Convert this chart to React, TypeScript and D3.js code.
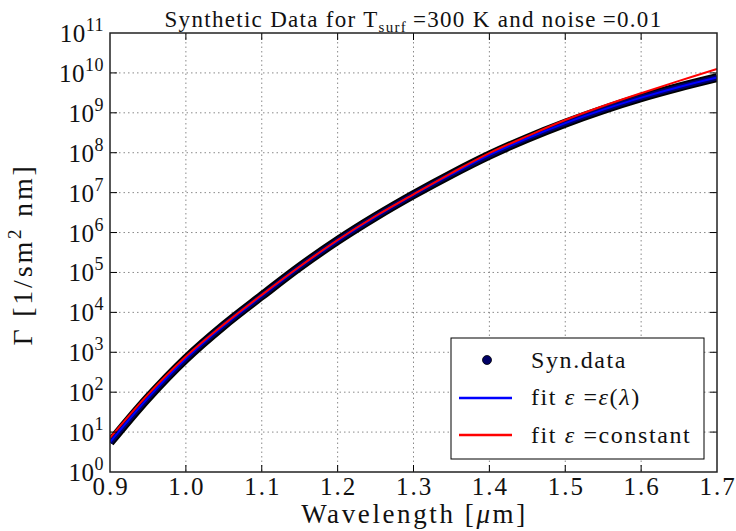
import React from "react";
import * as d3 from "d3";

// wavelength grid [µm]
const wavelengths = [0.9, 0.95, 1.0, 1.05, 1.1, 1.15, 1.2, 1.25, 1.3, 1.35, 1.4, 1.45, 1.5, 1.55, 1.6, 1.65, 1.7];
// synthetic data
const synData = [5.5, 72, 690, 4.7e3, 2.6e4, 1.38e5, 6.3e5, 2.5e6, 8.9e6, 2.9e7, 8.7e7, 2.3e8, 5.5e8, 1.2e9, 2.4e9, 4.4e9, 7.6e9];
// fit eps = eps(lambda)
const fitVar = [5.6, 72, 695, 4.7e3, 2.6e4, 1.38e5, 6.3e5, 2.5e6, 8.9e6, 2.9e7, 8.8e7, 2.3e8, 5.5e8, 1.2e9, 2.4e9, 4.45e9, 7.7e9];
// fit eps = constant
const fitConst = [7.2, 87, 780, 5.0e3, 2.75e4, 1.41e5, 6.5e5, 2.6e6, 9.1e6, 3.1e7, 9.8e7, 2.6e8, 6.6e8, 1.48e9, 3.1e9, 6.3e9, 1.26e10];

const xTicks = [0.9, 1.0, 1.1, 1.2, 1.3, 1.4, 1.5, 1.6, 1.7];
const yExponents = [0, 1, 2, 3, 4, 5, 6, 7, 8, 9, 10, 11];

const W = 736;
const H = 531;
const L = 110, R = 717, T = 33, B = 472;
const FS = { fontFamily: "'Liberation Serif', monospace" };

export default function App() {
  const x = d3.scaleLinear().domain([0.9, 1.7]).range([L, R]);
  const y = d3.scaleLog().domain([1, 1e11]).range([B, T]);

  const mk = (vals: number[]) =>
    d3
      .line<number>()
      .x((_, i) => x(wavelengths[i]))
      .y((v) => y(v))
      .curve(d3.curveCatmullRom.alpha(0.5))(vals) || "";

  const dataPath = mk(synData);
  const varPath = mk(fitVar);
  const constPath = mk(fitConst);

  const tickLen = 7;

  return (
    <svg width={W} height={H} style={{ position: "absolute", left: 0, top: 0, background: "#fff" }}>
      <rect x={0} y={0} width={W} height={H} fill="#fff" />
      <defs>
        <clipPath id="plotclip">
          <rect x={L} y={T} width={R - L} height={B - T} />
        </clipPath>
      </defs>

      {/* grid */}
      <g stroke="#8a8a8a" strokeWidth={1} strokeDasharray="1.5,3">
        {xTicks.slice(1, -1).map((t) => (
          <line key={"gx" + t} x1={x(t)} x2={x(t)} y1={T} y2={B} />
        ))}
        {yExponents.slice(1, -1).map((e) => (
          <line key={"gy" + e} x1={L} x2={R} y1={y(Math.pow(10, e))} y2={y(Math.pow(10, e))} />
        ))}
      </g>

      {/* series */}
      <g clipPath="url(#plotclip)" fill="none">
        <path d={dataPath} stroke="#000" strokeWidth={9} strokeLinejoin="round" />
        <path d={dataPath} stroke="#000066" strokeWidth={5.5} strokeLinejoin="round" />
        <path d={varPath} stroke="#0000ff" strokeWidth={2} />
        <path d={constPath} stroke="#ff0000" strokeWidth={2} />
      </g>

      {/* ticks */}
      <g stroke="#000" strokeWidth={1}>
        {xTicks.slice(1, -1).map((t) => (
          <g key={"tx" + t}>
            <line x1={x(t)} x2={x(t)} y1={B} y2={B - tickLen} />
            <line x1={x(t)} x2={x(t)} y1={T} y2={T + tickLen} />
          </g>
        ))}
        {yExponents.slice(1, -1).map((e) => (
          <g key={"ty" + e}>
            <line x1={L} x2={L + tickLen} y1={y(Math.pow(10, e))} y2={y(Math.pow(10, e))} />
            <line x1={R} x2={R - tickLen} y1={y(Math.pow(10, e))} y2={y(Math.pow(10, e))} />
          </g>
        ))}
      </g>

      {/* frame */}
      <rect x={L} y={T} width={R - L} height={B - T} fill="none" stroke="#222" strokeWidth={1.5} />

      {/* x tick labels */}
      {xTicks.map((t) => (
        <text key={"lx" + t} x={x(t) + 1} y={495} fontSize={25} textAnchor="middle" fill="#111" letterSpacing={2} style={FS}>
          {t.toFixed(1)}
        </text>
      ))}

      {/* y tick labels */}
      {yExponents.map((e) => (
        <text key={"ly" + e} x={104} y={y(Math.pow(10, e)) + 9} fontSize={25} textAnchor="end" fill="#111" letterSpacing={0.5} style={FS}>
          10
          <tspan fontSize={18} dy={-11} style={FS}>
            {e}
          </tspan>
        </text>
      ))}

      {/* title */}
      <text x={(L + R) / 2} y={27} textAnchor="middle" fontSize={23} fill="#111" letterSpacing={1.3} style={FS}>
        Synthetic Data for T
        <tspan fontSize={15} dy={5} style={FS}>surf</tspan>
        <tspan dy={-5} style={FS}>{"\u2009=300 K and noise\u2009=0.01"}</tspan>
      </text>

      {/* x label */}
      <text x={(L + R) / 2 + 1} y={523} textAnchor="middle" fontSize={27} fill="#111" letterSpacing={2.6} style={FS}>
        Wavelength [<tspan fontStyle="italic" style={FS}>μ</tspan>m]
      </text>

      {/* y label */}
      <text
        transform={`translate(32, ${(T + B) / 2 + 2}) rotate(-90)`}
        textAnchor="middle"
        fontSize={28}
        fill="#111"
        letterSpacing={2.8}
        style={FS}
      >
        Γ [1/sm<tspan fontSize={19} dy={-11} style={FS}>2</tspan>
        <tspan dy={11} style={FS}> nm]</tspan>
      </text>

      {/* legend */}
      <g>
        <rect x={451} y={338} width={253} height={121} fill="#fff" stroke="#000" strokeWidth={1} />
        <circle cx={487} cy={360} r={4.5} fill="#000066" stroke="#000" strokeWidth={0.8} />
        <line x1={459} x2={512} y1={398} y2={398} stroke="#0000ff" strokeWidth={2.5} />
        <line x1={459} x2={512} y1={435} y2={435} stroke="#ff0000" strokeWidth={2.5} />
        <text x={531} y={368} fontSize={24} fill="#111" letterSpacing={1.6} style={FS}>Syn.data</text>
        <text x={531} y={405} fontSize={24} fill="#111" letterSpacing={1.6} style={FS}>
          fit <tspan fontStyle="italic" style={FS}>ε</tspan> =<tspan fontStyle="italic" style={FS}>ε</tspan>(<tspan fontStyle="italic" style={FS}>λ</tspan>)
        </text>
        <text x={531} y={443} fontSize={24} fill="#111" letterSpacing={1.6} style={FS}>
          fit <tspan fontStyle="italic" style={FS}>ε</tspan> =constant
        </text>
      </g>
    </svg>
  );
}
